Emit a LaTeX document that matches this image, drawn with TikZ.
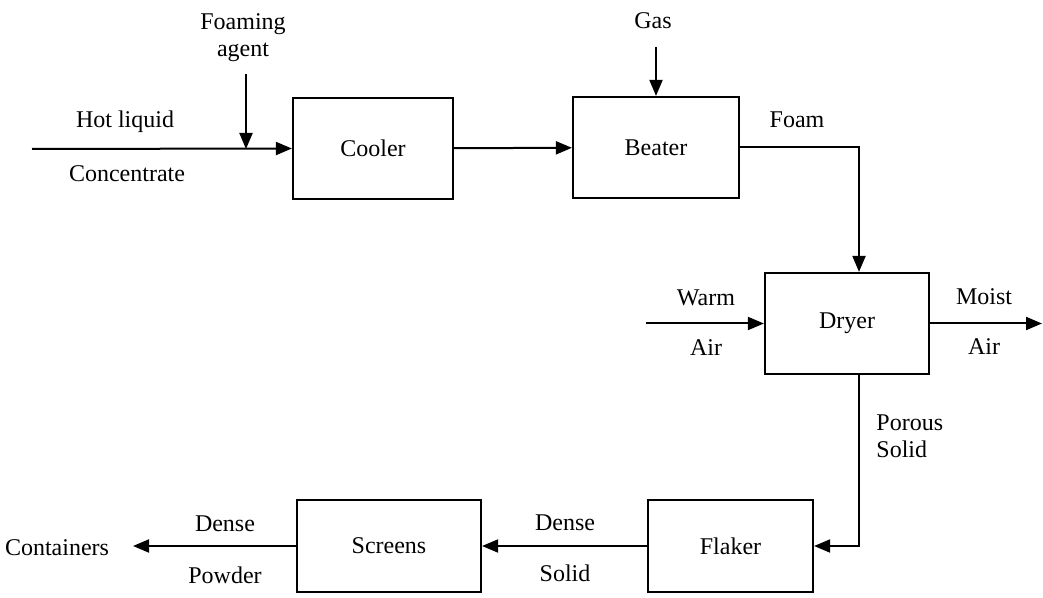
\documentclass[tikz,border=0pt]{standalone}
\usepackage{fontspec}
\setmainfont{Liberation Serif}
\usetikzlibrary{arrows.meta,positioning}
\tikzset{
  unit/.style={draw,line width=1.1pt,minimum height=50.5pt,inner sep=0pt},
  lowunit/.style={unit,minimum height=46pt},
  ar/.style={-{Triangle[length=8pt,width=6.5pt]},line width=1pt},
  lbl/.style={inner sep=0pt,align=center},
}

\begin{document}
\begin{tikzpicture}[x=0.5pt,y=-0.5pt,font=\fontsize{12}{13.5}\selectfont]
\useasboundingbox (0,0) rectangle (1043,598);
% units
\node[unit,minimum width=80pt] (cooler) at (373,148.5) {Cooler};
\node[unit,minimum width=83pt] (beater) at (656,147.5) {Beater};
\node[unit,minimum width=82pt] (dryer) at (847,323.5) {Dryer};
\node[lowunit,minimum width=82.5pt] (flaker) at (730.5,546) {Flaker};
\node[lowunit,minimum width=92pt] (screens) at (389,546) {Screens};
% free ends
\coordinate (feed) at (32,149);
\coordinate (agenttop) at (246,74);
\coordinate (agentin) at (246,149);
\coordinate (col) at (859,0);
\coordinate (warmin) at (646,323.5);
\coordinate (moistout) at (1042,323.5);
\coordinate (pack) at (133,546);
% streams
\draw[ar] (feed) -- (cooler.west);
\draw[ar] (agenttop) -- (agentin);
\draw[ar] (cooler) -- (beater);
\draw[ar] (beater.north |- 0,47) -- (beater.north);
\draw[ar] (beater.east) -| (col |- dryer.north);
\draw[ar] (warmin) -- (dryer.west);
\draw[ar] (dryer.east) -- (moistout);
\draw[ar] (col |- dryer.south) |- (flaker.east);
\draw[ar] (flaker) -- (screens);
\draw[ar] (screens.west) -- (pack);
% labels
\node[lbl] (hot) at (125,122) {Hot liquid};
\node[lbl] (conc) at (127,174) {Concentrate};
\node[lbl] (agent) at (243,38) {Foaming\\agent};
\node[lbl] (gas) at (653,21) {Gas};
\node[lbl] (foam) at (797,120) {Foam};
\node[lbl] (warm) at (706,298) {Warm};
\node[lbl] (airin) at (706,348) {Air};
\node[lbl] (moist) at (984,297) {Moist};
\node[lbl] (airout) at (984,347) {Air};
\node[lbl,align=left,anchor=west] (porous) at (876,436) {Porous\\Solid};
\node[lbl] (dsolid) at (565,523) {Dense};
\node[lbl] (solid) at (565,573) {Solid};
\node[lbl] (dpowder) at (225,524) {Dense};
\node[lbl] (powder) at (225,575) {Powder};
\node[lbl] (cont) at (57,548) {Containers};
\end{tikzpicture}
\end{document}
